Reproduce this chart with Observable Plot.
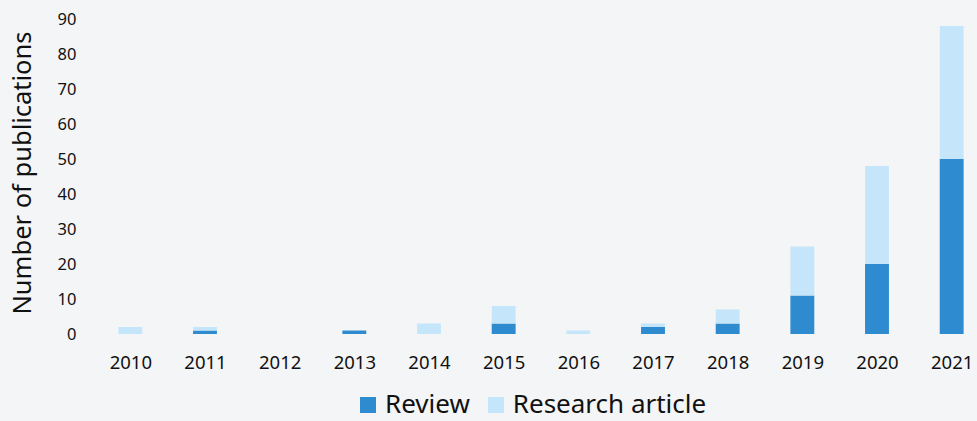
<!DOCTYPE html>
<html>
<head>
<meta charset="utf-8">
<script src="https://cdn.jsdelivr.net/npm/d3@7"></script>
<script src="https://cdn.jsdelivr.net/npm/@observablehq/plot@0.6"></script>
<style>
  html, body { margin: 0; padding: 0; background: #f4f5f7; }
  body { width: 977px; height: 421px; overflow: hidden; position: relative; font-family: "Noto Sans", sans-serif; }
  #legend { position: absolute; left: 360px; top: 388px; display: flex; align-items: flex-end; font-size: 26px; line-height: 30px; color: #111; }
  .item { display: flex; align-items: center; margin-right: 18px; }
  .sw { width: 16px; height: 16px; display: inline-block; margin-right: 9px; margin-top: 3px; }
</style>
</head>
<body>
<div id="chart"></div>
<div id="legend"></div>
<script>
const years = ["2010","2011","2012","2013","2014","2015","2016","2017","2018","2019","2020","2021"];
const review = [0, 1, 0, 1, 0, 3, 0, 2, 3, 11, 20, 50];
const research = [2, 1, 0, 0, 3, 5, 1, 1, 4, 14, 28, 38];
const seriesNames = ["Review", "Research article"];
const seriesColors = ["#2e8bcf", "#c5e6fa"];
const yTicks = [0, 10, 20, 30, 40, 50, 60, 70, 80, 90];

const data = [];
years.forEach((y, i) => {
  data.push({year: y, type: "Review", value: review[i]});
  data.push({year: y, type: "Research article", value: research[i]});
});

const chart = Plot.plot({
  width: 977,
  height: 385,
  marginTop: 19,
  marginBottom: 51,
  marginLeft: 93,
  marginRight: 0,
  style: {background: "#f4f5f7", fontFamily: "Noto Sans, sans-serif", fontSize: "16px", color: "#111"},
  x: {domain: years, range: [93, 989], round: false, paddingInner: 0.68, paddingOuter: 0.34, label: null},
  y: {domain: [0, 90], ticks: yTicks, label: null},
  color: {domain: seriesNames, range: seriesColors},
  marks: [
    Plot.ruleY(yTicks, {stroke: "#dcdcdc", strokeWidth: 2, x1: 93, x2: 989}),
    Plot.barY(data, {x: "year", y: "value", fill: "type", order: seriesNames}),
    Plot.axisX({tickSize: 0, tickPadding: 21, fontSize: 18.5, fill: "#111"}),
    Plot.axisY({ticks: yTicks, tickSize: 0, tickPadding: 17, fontSize: 16.5, fill: "#111", label: null}),
    Plot.text(["Number of publications"], {frameAnchor: "left", textAnchor: "middle", dx: -71, dy: -4, rotate: -90, fontSize: 25.5, fill: "#111"})
  ]
});
document.getElementById("chart").appendChild(chart);

const legend = document.getElementById("legend");
seriesNames.forEach((n, i) => {
  const it = document.createElement("div");
  it.className = "item";
  it.innerHTML = `<span class="sw" style="background:${seriesColors[i]}"></span><span>${n}</span>`;
  legend.appendChild(it);
});
</script>
</body>
</html>
